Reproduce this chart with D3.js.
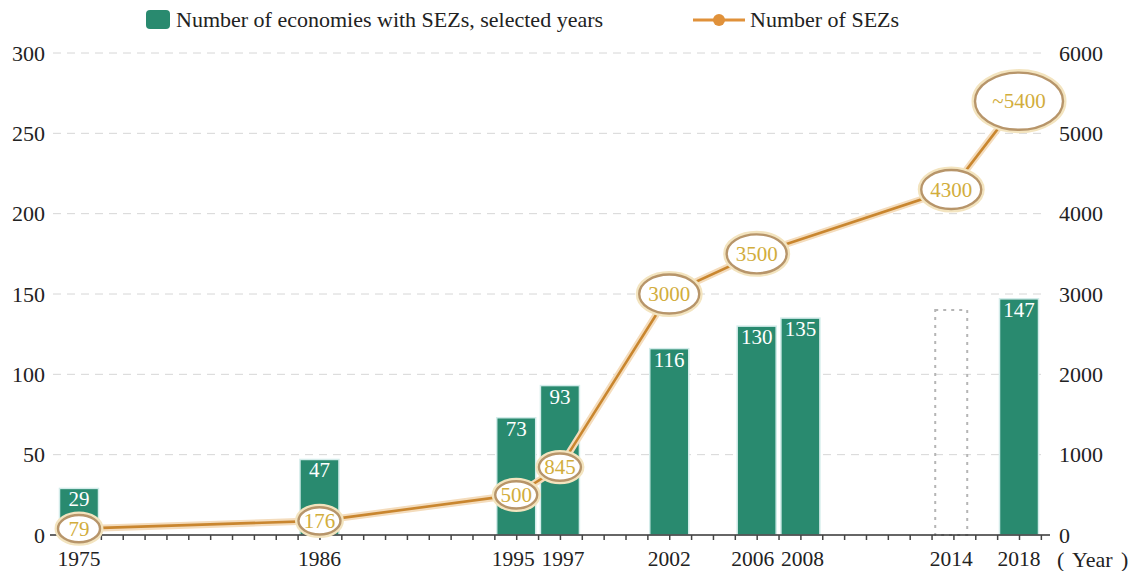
<!DOCTYPE html>
<html>
<head>
<meta charset="utf-8">
<script src="https://cdn.jsdelivr.net/npm/d3@7"></script>
<style>
	body { margin: 0; background: #fff; }
	text { font-family: "Liberation Serif", "DejaVu Serif", serif; }
</style>
</head>
<body>
<div class="chart"></div>
<script>
// economies with SEZs (bars, left axis)
const barYears = [1975, 1986, 1995, 1997, 2002, 2006, 2008, 2018];
const barValues = [29, 47, 73, 93, 116, 130, 135, 147];
// 2014 has no figure, only a dotted placeholder column
const gapYear = 2014;
const gapValue = 140;

// number of SEZs (line, right axis)
const lineYears = [1975, 1986, 1995, 1997, 2002, 2006, 2014, 2018];
const lineValues = [79, 176, 500, 845, 3000, 3500, 4300, 5400];
const lineLabels = ['79', '176', '500', '845', '3000', '3500', '4300', '~5400'];

const yearLabels = [1975, 1986, 1995, 1997, 2002, 2006, 2008, 2014, 2018];
const leftTicks = [0, 50, 100, 150, 200, 250, 300];
const rightTicks = [0, 1000, 2000, 3000, 4000, 5000, 6000];

const width = 1132, height = 571;
const plotLeft = 50, plotRight = 1050, plotBase = 535, plotTop = 53;
const serif = '"Liberation Serif", "DejaVu Serif", serif';

const svg = d3.select('.chart').append('svg')
	.attr('width', width)
	.attr('height', height);

const x = d3.scaleLinear().domain([1975, 2018]).range([79, 1019]);
// the source sets the 2014 column a bit to the right of its tick
function px(year){ return x(year === 2014 ? 2014.9 : year) }
// neighbouring year labels are pushed apart a little in the source
const labelNudge = {1995: -3, 1997: 3, 2006: -4, 2008: 2};

const yL = d3.scaleLinear().domain([0, 300]).range([plotBase, plotTop]);
const yR = d3.scaleLinear().domain([0, 6000]).range([plotBase, plotTop]);

// grid
svg.append('g')
	.selectAll('line')
	.data(leftTicks.slice(1))
	.enter().append('line')
		.attr('x1', 53).attr('x2', 1046)
		.attr('y1', function(d){ return yL(d) })
		.attr('y2', function(d){ return yL(d) })
		.style('stroke', '#d6d6d6')
		.style('stroke-dasharray', '8,6')

// left / right axis labels
const axL = svg.append('g')
	.attr('transform', 'translate(' + plotLeft + ',0)')
	.call(d3.axisLeft(yL).tickValues(leftTicks).tickSize(0).tickPadding(5));
axL.attr('font-family', serif);
axL.select('.domain').remove();
axL.selectAll('text').style('font-size', '22px').style('fill', '#222');

const axR = svg.append('g')
	.attr('transform', 'translate(' + (plotRight + 2) + ',0)')
	.call(d3.axisRight(yR).tickValues(rightTicks).tickSize(0).tickPadding(7).tickFormat(d3.format('d')));
axR.attr('font-family', serif);
axR.select('.domain').remove();
axR.selectAll('text').style('font-size', '22px').style('fill', '#222');

// bars
const bw = 39;
svg.append('g')
	.selectAll('rect')
	.data(barYears)
	.enter().append('rect')
		.attr('x', function(d){ return px(d) - bw / 2 })
		.attr('y', function(d, i){ return yL(barValues[i]) })
		.attr('width', bw)
		.attr('height', function(d, i){ return plotBase - yL(barValues[i]) })
		.style('fill', '#298a6f')
		.style('stroke', '#d3ecea')
		.style('stroke-width', 1.5)

svg.append('g')
	.selectAll('text')
	.data(barYears)
	.enter().append('text')
		.attr('x', function(d){ return px(d) })
		.attr('y', function(d, i){ return yL(barValues[i]) + 18 })
		.style('text-anchor', 'middle')
		.style('font-size', '21px')
		.style('fill', '#fff')
		.text(function(d, i){ return barValues[i] })

// dotted placeholder for 2014
svg.append('rect')
	.attr('x', px(gapYear) - 16)
	.attr('y', yL(gapValue))
	.attr('width', 32)
	.attr('height', plotBase - yL(gapValue))
	.style('fill', 'none')
	.style('stroke', '#b5b5b5')
	.style('stroke-width', 2)
	.style('stroke-dasharray', '3,5')

// x axis
svg.append('line')
	.attr('x1', plotLeft).attr('x2', plotRight)
	.attr('y1', plotBase).attr('y2', plotBase)
	.style('stroke', '#333')
	.style('stroke-width', 1.5)

const axMinor = svg.append('g')
	.attr('transform', 'translate(0,' + plotBase + ')')
	.call(d3.axisBottom(x).tickValues(d3.range(1975, 2020)).tickSize(5).tickFormat(''));
axMinor.select('.domain').remove();
axMinor.selectAll('line').style('stroke', '#444').style('stroke-width', 1.5);

const axX = svg.append('g')
	.attr('transform', 'translate(0,' + plotBase + ')')
	.call(d3.axisBottom(x).tickValues(yearLabels).tickSize(0).tickPadding(16).tickFormat(d3.format('d')));
axX.attr('font-family', serif);
axX.select('.domain').remove();
axX.selectAll('.tick').attr('transform', function(d){ return 'translate(' + (px(d) + (labelNudge[d] || 0)) + ',0)' });
axX.selectAll('text').style('font-size', '21.5px').style('fill', '#222');

svg.append('text')
	.attr('x', 1057).attr('y', 567)
	.style('font-size', '22px')
	.style('word-spacing', '3px')
	.style('fill', '#222')
	.text('( Year )')

// SEZ line
const pts = lineYears.map(function(d, i){ return [px(d), yR(lineValues[i])] });
const path = d3.line()(pts);

svg.append('path')
	.attr('d', path)
	.style('fill', 'none')
	.style('stroke', '#f4dcbc')
	.style('stroke-width', 7)

svg.append('path')
	.attr('d', path)
	.style('fill', 'none')
	.style('stroke', '#c9862f')
	.style('stroke-width', 2.6)

function rxOf(label){ return label.length <= 3 ? 21 : (label.length === 4 ? 30 : 44) }

const bubbles = svg.append('g')
	.selectAll('g')
	.data(lineLabels)
	.enter().append('g')
		.attr('transform', function(d, i){ return 'translate(' + pts[i][0] + ',' + pts[i][1] + ')' })

bubbles.append('ellipse')
	.attr('rx', function(d){ return rxOf(d) })
	.attr('ry', function(d){ return rxOf(d) * 0.65 })
	.style('fill', '#fff')
	.style('stroke', '#f3e4bf')
	.style('stroke-width', 7)

bubbles.append('ellipse')
	.attr('rx', function(d){ return rxOf(d) })
	.attr('ry', function(d){ return rxOf(d) * 0.65 })
	.style('fill', '#fff')
	.style('stroke', '#b7956a')
	.style('stroke-width', 2.4)

bubbles.append('text')
	.attr('dy', '0.34em')
	.style('text-anchor', 'middle')
	.style('font-size', '21px')
	.style('fill', '#d2ad3c')
	.text(function(d){ return d })

// legend
const legend = svg.append('g');
legend.append('rect')
	.attr('x', 146).attr('y', 10)
	.attr('width', 24).attr('height', 19)
	.attr('rx', 4)
	.style('fill', '#298a6f')
legend.append('text')
	.attr('x', 176).attr('y', 27)
	.style('font-size', '22px')
	.style('fill', '#222')
	.text('Number of economies with SEZs, selected years')

legend.append('line')
	.attr('x1', 693).attr('x2', 745)
	.attr('y1', 20).attr('y2', 20)
	.style('stroke', '#e0913a')
	.style('stroke-width', 3)
legend.append('circle')
	.attr('cx', 719).attr('cy', 20).attr('r', 6)
	.style('fill', '#e0913a')
legend.append('text')
	.attr('x', 750).attr('y', 27)
	.style('font-size', '22px')
	.style('fill', '#222')
	.text('Number of SEZs')
</script>
</body>
</html>
